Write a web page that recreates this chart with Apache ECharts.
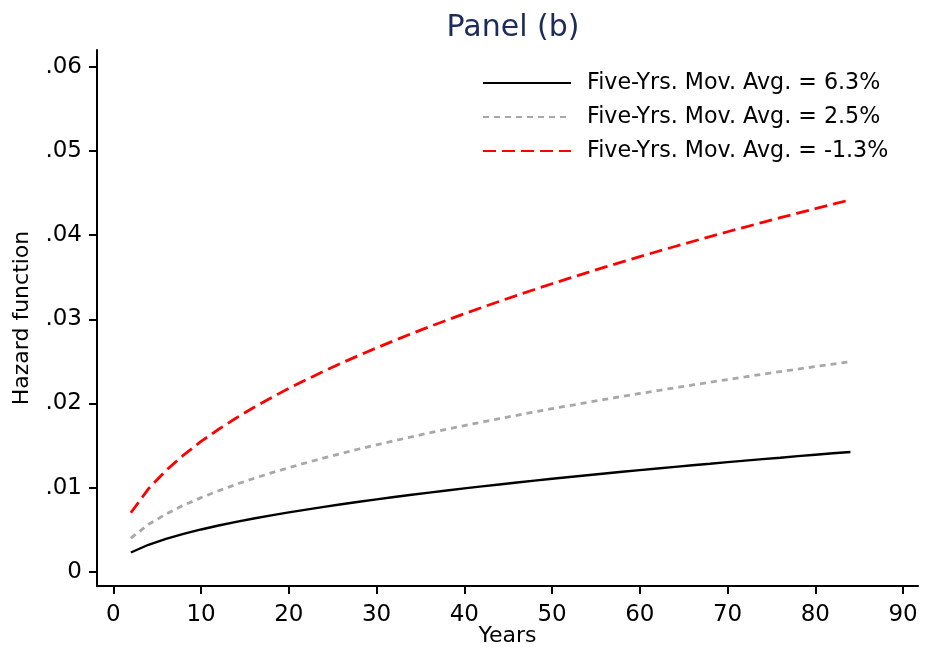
<!DOCTYPE html>
<html>
<head>
<meta charset="utf-8">
<script src="https://cdn.jsdelivr.net/npm/echarts@6/dist/echarts.min.js"></script>
<style>html,body{margin:0;padding:0;background:#fff}#c{width:925px;height:652px}</style>
</head>
<body>
<div id="c"></div>
<script>
var years = [2,4,6,8,10,12,14,16,18,20,22,24,26,28,30,32,34,36,38,40,42,44,46,48,50,52,54,56,58,60,62,64,66,68,70,72,74,76,78,80,82,84];
var seriesHigh = [0.00228,0.00320,0.00391,0.00450,0.00502,0.00549,0.00592,0.00632,0.00669,0.00705,0.00738,0.00770,0.00801,0.00831,0.00859,0.00887,0.00914,0.00940,0.00965,0.00990,0.01014,0.01037,0.01060,0.01082,0.01104,0.01125,0.01146,0.01167,0.01187,0.01207,0.01227,0.01246,0.01265,0.01283,0.01302,0.01320,0.01338,0.01355,0.01373,0.01390,0.01407,0.01423];
var seriesMid = [0.00400,0.00562,0.00685,0.00789,0.00880,0.00962,0.01038,0.01108,0.01174,0.01236,0.01295,0.01352,0.01406,0.01458,0.01508,0.01556,0.01603,0.01649,0.01693,0.01736,0.01778,0.01819,0.01859,0.01898,0.01937,0.01974,0.02011,0.02047,0.02083,0.02118,0.02152,0.02186,0.02219,0.02252,0.02284,0.02315,0.02347,0.02378,0.02408,0.02438,0.02468,0.02497];
var seriesLow = [0.00700,0.00985,0.01203,0.01386,0.01548,0.01693,0.01827,0.01951,0.02068,0.02178,0.02283,0.02383,0.02479,0.02571,0.02660,0.02746,0.02830,0.02911,0.02989,0.03066,0.03140,0.03213,0.03284,0.03354,0.03422,0.03489,0.03554,0.03619,0.03682,0.03744,0.03805,0.03865,0.03924,0.03982,0.04040,0.04096,0.04152,0.04207,0.04261,0.04314,0.04367,0.04420];
var seriesNames = ['Five-Yrs. Mov. Avg. = 6.3%','Five-Yrs. Mov. Avg. = 2.5%','Five-Yrs. Mov. Avg. = -1.3%'];
var xTicks = [0,10,20,30,40,50,60,70,80,90];
var yTicks = [0,0.01,0.02,0.03,0.04,0.05,0.06];

function pairs(xs, ys){ return xs.map(function(x,i){ return [x, ys[i]]; }); }
var FONT = 'DejaVu Sans';
var chart = echarts.init(document.getElementById('c'), null, {renderer:'canvas'});
chart.setOption({
  animation: false,
  backgroundColor: '#ffffff',
  textStyle: {fontFamily: FONT},
  title: {
    text: 'Panel (b)',
    left: 508, top: 8, textAlign: 'center',
    textStyle: {fontFamily: FONT, fontSize: 30, fontWeight: 'normal', color: '#1c2b5a'}
  },
  legend: {
    orient: 'vertical', left: 482, top: 70, padding: 0,
    itemWidth: 88, itemHeight: 14, itemGap: 8,
    data: seriesNames,
    itemStyle: {opacity: 0},
    textStyle: {fontFamily: FONT, fontSize: 22.2, color: '#000', lineHeight: 23, padding: [3,0,0,11]}
  },
  grid: {left: 97, right: 7, top: 50, bottom: 66, containLabel: false, outerBoundsMode: 'none'},
  xAxis: {
    type: 'value', min: -1.86, max: 91.7,
    name: 'Years', nameLocation: 'middle', nameGap: 39, nameMoveOverlap: false,
    nameTextStyle: {fontFamily: FONT, fontSize: 22, color: '#000'},
    axisLine: {onZero: false, lineStyle: {color: '#000', width: 2}},
    axisTick: {show: true, inside: false, length: 8, lineStyle: {color: '#000', width: 2}, customValues: xTicks},
    axisLabel: {fontFamily: FONT, fontSize: 23, color: '#000', margin: 18, customValues: xTicks},
    splitLine: {show: false}
  },
  yAxis: {
    type: 'value', min: -0.0017, max: 0.062,
    name: 'Hazard function', nameLocation: 'middle', nameGap: 64, nameRotate: 90, nameMoveOverlap: false,
    nameTextStyle: {fontFamily: FONT, fontSize: 22, color: '#000'},
    axisLine: {show: true, onZero: false, lineStyle: {color: '#000', width: 2}},
    axisTick: {show: true, inside: false, length: 8, lineStyle: {color: '#000', width: 2}, customValues: yTicks},
    axisLabel: {fontFamily: FONT, fontSize: 23, color: '#000', margin: 15, customValues: yTicks,
      formatter: function(v){ return v === 0 ? '0' : String(v).replace('0.', '.'); }},
    splitLine: {show: false}
  },
  series: [
    {name: seriesNames[0], type: 'line', data: pairs(years, seriesHigh), symbol: 'none',
      lineStyle: {color: '#000000', width: 2.4, type: 'solid'}, itemStyle: {color: '#000000'}},
    {name: seriesNames[1], type: 'line', data: pairs(years, seriesMid), symbol: 'none',
      lineStyle: {color: '#a8a8a8', width: 2.8, type: [6,5]}, itemStyle: {color: '#a8a8a8'}},
    {name: seriesNames[2], type: 'line', data: pairs(years, seriesLow), symbol: 'none',
      lineStyle: {color: '#ff0000', width: 2.8, type: [13,6]}, itemStyle: {color: '#ff0000'}}
  ]
});
</script>
</body>
</html>
